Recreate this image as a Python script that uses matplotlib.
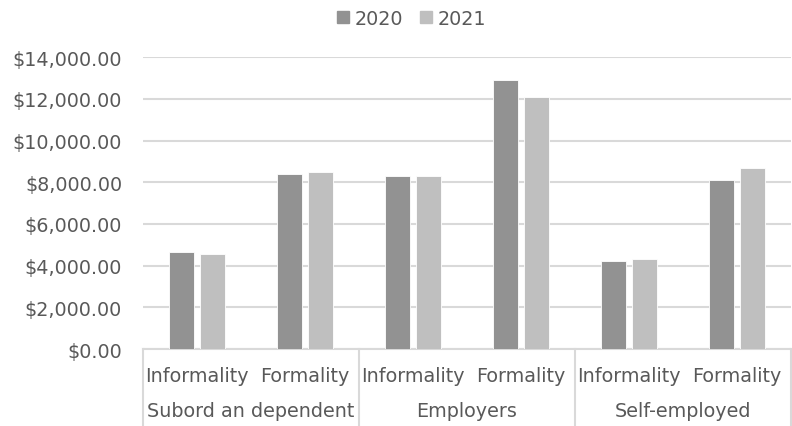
import matplotlib.pyplot as plt
import numpy as np
from matplotlib.ticker import StrMethodFormatter
from matplotlib.patches import Patch

plt.rcParams['font.family'] = ['DejaVu Sans']

groups = ['Subord an dependent', 'Employers', 'Self-employed']
subcats = ['Informality', 'Formality'] * 3
years = ['2020', '2021']
values_2020 = [4675, 8405, 8310, 12885, 4210, 8120]
values_2021 = [4578, 8485, 8310, 12072, 4340, 8694]

col_2020 = '#929292'
col_2021 = '#bfbfbf'
txt = '#595959'
grid = '#d9d9d9'
fs = 13.8

fig = plt.figure(figsize=(7.92, 4.27), dpi=100)
ax = fig.add_axes([0.1805, 0.18, 0.818, 0.684])

x = np.arange(len(subcats))
w = 0.23
ax.bar(x - 0.145, values_2020, w, color=col_2020, edgecolor='white', linewidth=0.6, zorder=3)
ax.bar(x + 0.145, values_2021, w, color=col_2021, edgecolor='white', linewidth=0.6, zorder=3)

ax.set_xlim(-0.5, 5.5)
ax.set_ylim(0, 14000)
ax.set_yticks(np.arange(0, 14001, 2000))
ax.yaxis.set_major_formatter(StrMethodFormatter('${x:,.2f}'))
ax.grid(axis='y', color=grid, linewidth=1.5, zorder=0)
for s in ['top', 'right', 'left']:
    ax.spines[s].set_visible(False)
ax.spines['bottom'].set_color(grid)
ax.spines['bottom'].set_linewidth(1.5)
ax.tick_params(axis='y', length=0, labelsize=fs, labelcolor=txt, pad=15)
ax.tick_params(axis='x', length=0, labelsize=fs, labelcolor=txt, pad=12)
ax.set_xticks(x)
ax.set_xticklabels(subcats)

trans = ax.get_xaxis_transform()
for b in [-0.5, 1.5, 3.5, 5.5]:
    ax.plot([b, b], [0, -0.265], transform=trans, color=grid, linewidth=1.5, clip_on=False)
for i, g in enumerate(groups):
    ax.text(2 * i + 0.5, -0.21, g, transform=trans, ha='center', va='center',
            fontsize=fs, color=txt)

handles = [Patch(color=col_2020), Patch(color=col_2021)]
fig.legend(handles, years, loc='center', bbox_to_anchor=(0.52, 0.955), ncol=2,
           frameon=False, fontsize=fs, labelcolor=txt, handlelength=0.6,
           handleheight=0.6, handletextpad=0.3, columnspacing=0.9)

fig.savefig('out.png', dpi=100)
